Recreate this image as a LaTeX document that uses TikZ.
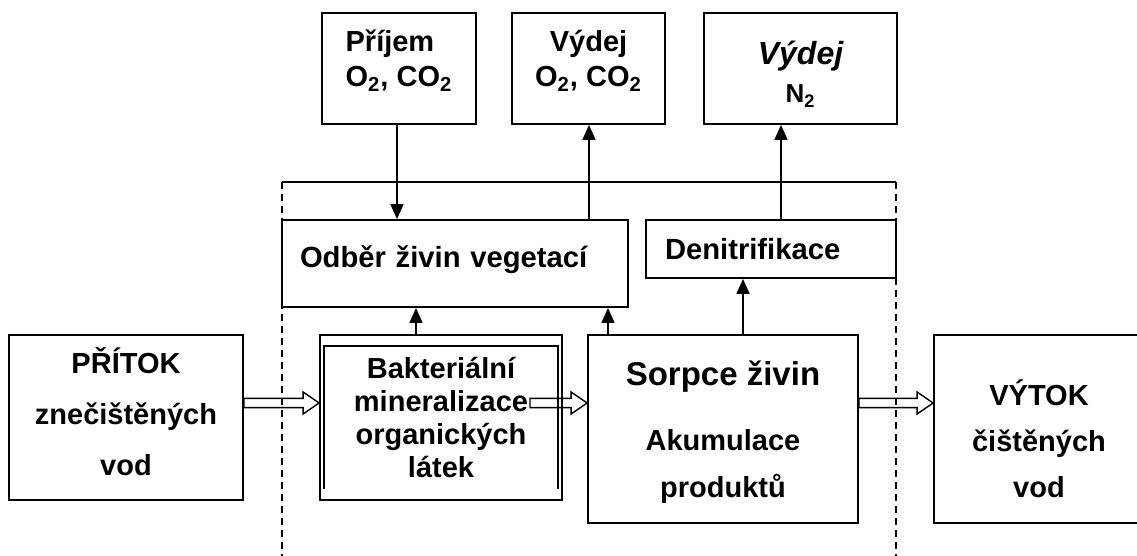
\documentclass[tikz,border=0pt]{standalone}
\usepackage{fontspec}
\setmainfont{Liberation Sans}
\usetikzlibrary{arrows.meta, calc}

\begin{document}
\begin{tikzpicture}[x=0.5pt, y=-0.5pt,
    box/.style={draw, line width=0.9pt, inner sep=0pt, align=center},
    conn/.style={line width=0.8pt, -{Triangle[length=7.5pt, width=6.5pt]}},
    fat/.style={line width=0.7pt, to path={let \p1=(\tikztostart), \p2=(\tikztotarget) in
        (\x1,\y1+2.3pt) -- (\x2-8pt,\y1+2.3pt) -- (\x2-8pt,\y1+5.5pt) -- (\x2,\y1)
        -- (\x2-8pt,\y1-5.5pt) -- (\x2-8pt,\y1-2.3pt) -- (\x1,\y1-2.3pt) -- cycle}},
    frame/.style={line width=0.75pt, dash pattern=on 3.5pt off 2.5pt}]
    \useasboundingbox (0,0) rectangle (1137,556);
    % Define the wetland frame
    \coordinate (ftl) at (282,182);
    \coordinate (ftr) at (896,182);
    \coordinate (fbl) at (282,556);
    \coordinate (fbr) at (896,556);
    \draw[line width=0.75pt] (ftl) -- (ftr);
    \draw[frame] (ftl) -- (fbl);
    \draw[frame] (ftr) -- (fbr);
    % Define nodes for the gas exchange
    \node[box, minimum width=77pt, minimum height=55.5pt, align=left, text height=30pt, text depth=11.5pt,
        font=\bfseries\fontsize{14.5pt}{17.5pt}\selectfont] (prijem) at (399,68.5)
        {Příjem\\O\textsubscript{2}, CO\textsubscript{2}};
    \node[box, minimum width=76.5pt, minimum height=55.5pt, text height=30pt, text depth=11.5pt,
        font=\bfseries\fontsize{14.5pt}{17.5pt}\selectfont] (vydejO) at (588.5,68.5)
        {Výdej\\O\textsubscript{2}, CO\textsubscript{2}};
    \node[box, minimum width=96.5pt, minimum height=55.5pt, text height=34.5pt, text depth=0pt,
        font=\bfseries\fontsize{13pt}{19pt}\selectfont] (vydejN) at (800.5,68.5)
        {{\itshape\fontsize{16pt}{19pt}\selectfont Výdej}\\N\textsubscript{2}};
    % Define nodes for the processes
    \node[box, minimum width=173pt, minimum height=43.5pt, inner xsep=9pt, text width=155pt,
        align=left, text height=10pt, text depth=5.5pt,
        font=\bfseries\fontsize{14.6pt}{17pt}\selectfont] (odber) at (455,263.5) {Odběr živin vegetací};
    \node[box, minimum width=125pt, minimum height=29pt, inner xsep=9.5pt, text width=106pt,
        align=left, font=\bfseries\fontsize{14.6pt}{17pt}\selectfont] (denit) at (771,249) {Denitrifikace};
    \node[box, minimum width=117pt, minimum height=82.5pt, text height=57.5pt, text depth=0pt,
        font=\bfseries\fontsize{14.5pt}{25.5pt}\selectfont] (pritok) at (126,417.5)
        {PŘÍTOK\\znečištěných\\vod};
    \node[box, minimum width=121pt, minimum height=82.5pt,
        font=\bfseries\fontsize{14.5pt}{16.5pt}\selectfont] (bakt) at (441,417.5)
        {Bakteriální\\mineralizace\\organických\\látek};
    \draw[line width=0.9pt] ([xshift=2.5pt, yshift=6pt]bakt.south west)
        |- ([xshift=-2.5pt, yshift=-6pt]bakt.north east) -- ([xshift=-2.5pt, yshift=6pt]bakt.south east);
    \node[box, minimum width=135pt, minimum height=94pt, text height=68pt, text depth=0pt,
        font=\bfseries\fontsize{14.5pt}{23.5pt}\selectfont] (sorpce) at (723,429)
        {{\fontsize{16.5pt}{19pt}\selectfont Sorpce živin}\\[9pt]Akumulace\\produktů};
    \node[box, minimum width=105pt, minimum height=94pt, text height=68pt, text depth=0pt,
        font=\bfseries\fontsize{14.5pt}{23pt}\selectfont] (vytok) at (1039,429)
        {VÝTOK\\čištěných\\vod};
    % Connectors
    \coordinate (c1) at (416,0);
    \coordinate (c2) at (608,0);
    \coordinate (c3) at (743,0);
    \coordinate (c4) at (781,0);
    \coordinate (c5) at (397,0);
    \coordinate (c6) at (589,0);
    \coordinate (c7) at (530,0);
    \coordinate (fy) at (0,403);
    \draw[conn] (prijem.south -| c5) -- (odber.north -| c5);
    \draw[conn] (odber.north -| c6) -- (vydejO.south -| c6);
    \draw[conn] (denit.north -| c4) -- (vydejN.south -| c4);
    \draw[conn] (bakt.north -| c1) -- (odber.south -| c1);
    \draw[conn] (sorpce.north -| c2) -- (odber.south -| c2);
    \draw[conn] (sorpce.north -| c3) -- (denit.south -| c3);
    \draw[fat] (pritok.east |- fy) to (bakt.west |- fy);
    \draw[fat] (c7 |- fy) to (sorpce.west |- fy);
    \draw[fat] (sorpce.east |- fy) to (vytok.west |- fy);
\end{tikzpicture}
\end{document}
